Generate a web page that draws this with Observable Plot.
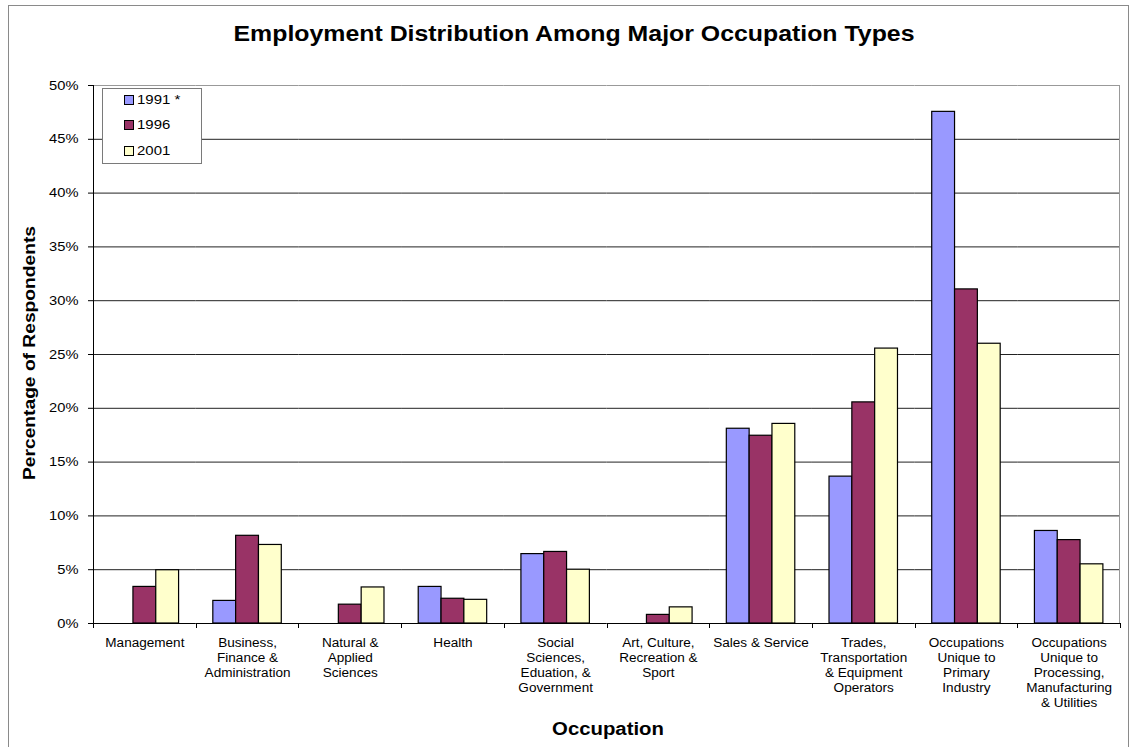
<!DOCTYPE html>
<html>
<head>
<meta charset="utf-8">
<script src="https://cdn.jsdelivr.net/npm/d3@7"></script>
<script src="https://cdn.jsdelivr.net/npm/@observablehq/plot@0.6"></script>
<style>
  body { margin: 0; background: #fff; font-family: "Liberation Sans", Arial, sans-serif; }
  #wrap { position: relative; width: 1133px; height: 747px; overflow: hidden; background: #fff; }
  #chart { position: absolute; left: 0; top: 0; }
  #border { position: absolute; left: 8px; top: 5px; width: 1119px; height: 800px; border: 1px solid #8a8a8a; pointer-events: none; }
  .t { position: absolute; font-weight: bold; color: #000; white-space: nowrap; }
  #title { top: 21px; left: 574px; font-size: 22px; transform: translateX(-50%) scaleX(1.13); }
  #ylab { left: 30px; top: 353px; font-size: 17px; transform: translate(-50%, -50%) rotate(-90deg) scaleX(1.13); }
  #xlab { left: 608px; top: 719px; font-size: 18px; transform: translateX(-50%) scaleX(1.13); }
  #legend { position: absolute; left: 102px; top: 88px; width: 98px; height: 74px; border: 1px solid #7a7a7a; background: #fff; }
  .li { position: absolute; left: 21px; height: 14px; font-size: 13px; line-height: 14px; white-space: nowrap; }
  .sw { display: inline-block; width: 8px; height: 8px; border: 1px solid #000; vertical-align: top; margin-top: 2px; }
  .lt { display: inline-block; margin-left: 3px; transform-origin: left center; transform: scaleX(1.15); }
</style>
</head>
<body>
<div id="wrap">
  <div id="chart"></div>
  <div id="border"></div>
  <div class="t" id="title"></div>
  <div class="t" id="ylab"></div>
  <div class="t" id="xlab"></div>
  <div id="legend"></div>
</div>
<script>
// ---- data ----
const categories = [
  "Management",
  "Business, Finance & Administration",
  "Natural & Applied Sciences",
  "Health",
  "Social Sciences, Eduation, & Government",
  "Art, Culture, Recreation & Sport",
  "Sales & Service",
  "Trades, Transportation & Equipment Operators",
  "Occupations Unique to Primary Industry",
  "Occupations Unique to Processing, Manufacturing & Utilities"
];
const tickLabels = [
  "Management",
  "Business,\nFinance &\nAdministration",
  "Natural &\nApplied\nSciences",
  "Health",
  "Social\nSciences,\nEduation, &\nGovernment",
  "Art, Culture,\nRecreation &\nSport",
  "Sales & Service",
  "Trades,\nTransportation\n& Equipment\nOperators",
  "Occupations\nUnique to\nPrimary\nIndustry",
  "Occupations\nUnique to\nProcessing,\nManufacturing\n& Utilities"
];
const series = ["1991 *", "1996", "2001"];
const v1991 = [null, 2.1, null, 3.4, 6.45, null, 18.1, 13.65, 47.55, 8.6];
const v1996 = [3.4, 8.15, 1.75, 2.3, 6.65, 0.8, 17.45, 20.55, 31.05, 7.75];
const v2001 = [4.95, 7.3, 3.35, 2.2, 5.0, 1.5, 18.55, 25.55, 26.0, 5.5];
const colors = ["#9999ff", "#993366", "#ffffcc"];
const yTicks = [0, 5, 10, 15, 20, 25, 30, 35, 40, 45, 50];
const titleText = "Employment Distribution Among Major Occupation Types";
const yLabel = "Percentage of Respondents";
const xLabel = "Occupation";

// ---- table ----
const valuesBySeries = [v1991, v1996, v2001];
const rows = [];
categories.forEach((c, i) => {
  series.forEach((s, j) => {
    const v = valuesBySeries[j][i];
    if (v != null) rows.push({cat: c, series: s, value: v});
  });
});
const labelOf = new Map(categories.map((c, i) => [c, tickLabels[i]]));

const plot = Plot.plot({
  width: 1133,
  height: 747,
  marginLeft: 93,
  marginRight: 13,
  marginTop: 85,
  marginBottom: 124,
  style: {fontFamily: "'Liberation Sans', Arial, sans-serif", background: "transparent", color: "#000"},
  fx: {domain: categories, padding: 0, round: false, label: null},
  x: {domain: series, paddingInner: 0, paddingOuter: 0.75, round: false, axis: null},
  y: {domain: [0, 50], label: null},
  color: {domain: series, range: colors},
  marks: [
    Plot.ruleY(yTicks.filter(d => d > 0 && d < 50), {stroke: "#222", strokeWidth: 1}),
    Plot.ruleY([50], {stroke: "#999", strokeWidth: 1}),
    Plot.barY(rows, {fx: "cat", x: "series", y: "value", fill: "series", stroke: "#000", strokeWidth: 1.2}),
    Plot.ruleY([0], {stroke: "#000", strokeWidth: 1}),
    Plot.axisY({ticks: yTicks, tickSize: 5, tickPadding: 10, tickFormat: d => d + "%", fontSize: 13, label: null, stroke: "#000"}),
    Plot.axisFx({anchor: "bottom", tickSize: 0, tickPadding: 13, label: null, fontSize: 12, lineHeight: 1.25, tickFormat: d => labelOf.get(d)})
  ]
});
document.getElementById("chart").appendChild(plot);

// decorations derived from the plot's own scales
const fxs = plot.scale("fx");
const ys = plot.scale("y");
const [r0, r1] = fxs.range;
const step = (r1 - r0) / categories.length;
const yBottom = ys.range[0], yTop = ys.range[1];
const s = d3.select(plot);
const g = s.append("g");
g.append("line").attr("x1", r0 + 0.5).attr("x2", r0 + 0.5).attr("y1", yTop).attr("y2", yBottom + 0.5).attr("stroke", "#000");
g.append("line").attr("x1", r1 - 0.5).attr("x2", r1 - 0.5).attr("y1", yTop).attr("y2", yBottom).attr("stroke", "#999");
for (let i = 0; i <= categories.length; i++) {
  const x = Math.round(r0 + i * step) + 0.5;
  g.append("line").attr("x1", x).attr("x2", x).attr("y1", yBottom).attr("y2", yBottom + 5).attr("stroke", "#000");
}
// horizontally stretch tick text like the original
s.selectAll('g[aria-label="fx-axis tick label"] text, g[aria-label="y-axis tick label"] text').each(function () {
  const t = this.getAttribute("transform");
  if (t) this.setAttribute("transform", t + " scale(1.13,1)");
});

document.getElementById("title").textContent = titleText;
document.getElementById("ylab").textContent = yLabel;
document.getElementById("xlab").textContent = xLabel;
const legend = document.getElementById("legend");
series.forEach((name, i) => {
  const d = document.createElement("div");
  d.className = "li";
  d.style.top = (4 + i * 25.3) + "px";
  d.innerHTML = `<span class="sw" style="background:${colors[i]}"></span><span class="lt"></span>`;
  d.querySelector(".lt").textContent = name;
  legend.appendChild(d);
});
</script>
</body>
</html>
